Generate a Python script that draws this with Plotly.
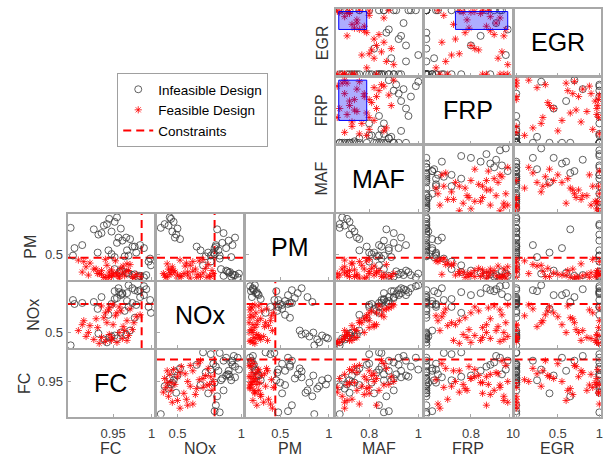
import plotly.graph_objects as go

# ---------------- data ----------------
variables = ["FC", "NOx", "PM", "MAF", "FRP", "EGR"]

# infeasible designs
inf_FC  = [0.945, 0.952, 0.938, 0.960, 0.948, 0.931, 0.967, 0.955, 0.972, 0.942,
           0.975, 0.982, 0.968, 0.990, 0.960, 0.978, 0.985, 0.958, 0.970, 0.952, 0.993, 0.962,
           0.975, 0.968, 0.980, 0.955, 0.962, 0.985, 0.970, 0.948, 0.990, 0.957, 0.965, 0.944,
           0.978, 0.952, 0.998, 0.996, 0.999, 0.935, 0.925, 0.910, 0.900, 0.898, 0.930, 0.895]
inf_NOx = [0.45, 0.47, 0.43, 0.50, 0.46, 0.49, 0.48, 0.44, 0.52, 0.40,
           0.95, 0.92, 0.90, 0.97, 0.88, 0.93, 0.86, 0.91, 0.98, 0.84, 0.94, 0.89,
           0.80, 0.82, 0.78, 0.85, 0.90, 0.93, 0.76, 0.79, 0.88, 0.95, 0.72, 0.68,
           0.65, 0.92, 0.83, 0.76, 0.70, 0.86, 0.81, 0.80, 0.79, 0.83, 0.74, 0.37]
inf_PM  = [0.97, 0.93, 0.88, 0.84, 0.80, 0.76, 0.72, 0.99, 0.70, 0.90,
           0.22, 0.20, 0.25, 0.19, 0.28, 0.23, 0.21, 0.26, 0.24, 0.30, 0.22, 0.27,
           0.60, 0.55, 0.52, 0.65, 0.68, 0.62, 0.48, 0.50, 0.58, 0.72, 0.47, 0.55,
           0.60, 0.46, 0.44, 0.40, 0.35, 0.78, 0.83, 0.62, 0.58, 0.48, 0.52, 0.85]
inf_MAF = [0.71, 0.72, 0.70, 0.73, 0.74, 0.72, 0.75, 0.69, 0.76, 0.68,
           0.97, 0.90, 0.93, 0.99, 0.95, 0.92, 0.88, 0.96, 1.00, 0.86, 0.94, 0.91,
           0.85, 0.88, 0.80, 0.90, 0.86, 0.95, 0.84, 0.81, 0.92, 0.93, 0.83, 0.76,
           0.79, 0.89, 0.85, 0.80, 0.84, 0.90, 0.87, 0.84, 0.88, 0.86, 0.82, 0.68]
inf_FRP = [0.57, 0.57, 0.57, 0.57, 0.58, 0.57, 0.57, 0.57, 0.60, 0.57,
           0.88, 0.92, 0.85, 0.95, 0.80, 0.90, 0.99, 0.75, 0.98, 0.70, 0.93, 0.96,
           0.57, 0.60, 0.62, 0.57, 0.63, 0.57, 0.62, 0.62, 0.57, 0.65, 0.57, 0.57,
           0.57, 0.61, 0.66, 0.70, 0.75, 0.57, 0.57, 0.57, 0.60, 0.57, 0.57, 0.57]
inf_EGR = [0.00, 0.00, 1.00, 0.00, 0.00, 1.00, 0.00, 0.00, 0.00, 1.00,
           1.00, 1.00, 0.60, 1.00, 0.45, 0.00, 0.70, 1.00, 0.30, 0.00, 0.80, 1.00,
           0.00, 0.00, 0.00, 0.00, 1.00, 0.20, 1.00, 0.00, 0.55, 0.00, 0.00, 1.00,
           0.00, 0.25, 0.00, 1.00, 0.00, 0.00, 0.65, 0.00, 0.00, 1.00, 0.40, 0.00]

# feasible designs
fea_FC  = [0.955, 0.948, 0.962, 0.940, 0.935, 0.970, 0.925, 0.958, 0.945, 0.965,
           0.915, 0.930, 0.975, 0.950, 0.942, 0.968, 0.920, 0.938, 0.980, 0.955,
           0.960, 0.945, 0.935, 0.972, 0.905, 0.912, 0.985, 0.950, 0.928, 0.963,
           0.948, 0.918, 0.977, 0.940, 0.958, 0.932, 0.968, 0.910, 0.953, 0.944]
fea_NOx = [0.40, 0.42, 0.44, 0.41, 0.45, 0.47, 0.43, 0.50, 0.48, 0.52,
           0.46, 0.55, 0.53, 0.58, 0.60, 0.62, 0.57, 0.65, 0.66, 0.70,
           0.72, 0.75, 0.77, 0.74, 0.52, 0.62, 0.68, 0.78, 0.64, 0.56,
           0.45, 0.50, 0.60, 0.70, 0.76, 0.39, 0.42, 0.58, 0.67, 0.73]
fea_PM  = [0.22, 0.20, 0.25, 0.19, 0.23, 0.28, 0.30, 0.18, 0.26, 0.21,
           0.33, 0.24, 0.20, 0.22, 0.35, 0.27, 0.38, 0.19, 0.23, 0.25,
           0.31, 0.21, 0.28, 0.36, 0.42, 0.40, 0.20, 0.24, 0.30, 0.34,
           0.29, 0.22, 0.18, 0.43, 0.20, 0.24, 0.37, 0.26, 0.41, 0.19]
fea_MAF = [0.68, 0.72, 0.70, 0.67, 0.75, 0.72, 0.69, 0.78, 0.71, 0.75,
           0.70, 0.80, 0.74, 0.82, 0.77, 0.80, 0.73, 0.79, 0.86, 0.83,
           0.81, 0.88, 0.84, 0.87, 0.70, 0.76, 0.85, 0.90, 0.78, 0.82,
           0.74, 0.71, 0.76, 0.80, 0.89, 0.67, 0.73, 0.83, 0.79, 0.86]
fea_FRP = [0.80, 0.85, 0.90, 0.95, 0.78, 0.82, 0.97, 0.88, 0.76, 0.93,
           0.99, 0.86, 0.79, 0.72, 0.70, 0.74, 0.68, 0.77, 0.65, 0.80,
           0.84, 0.89, 0.92, 0.67, 0.64, 0.63, 0.96, 0.99, 0.90, 0.94,
           0.86, 0.97, 0.98, 0.66, 0.82, 0.74, 0.71, 0.88, 0.62, 0.95]
fea_EGR = [0.97, 0.95, 0.90, 0.00, 0.85, 0.98, 0.00, 0.75, 0.97, 0.80,
           0.00, 0.99, 0.72, 0.55, 0.30, 0.32, 0.00, 0.65, 0.50, 0.45,
           0.38, 1.00, 0.62, 0.20, 0.00, 1.00, 0.35, 0.15, 0.68, 0.25,
           0.00, 0.60, 0.70, 0.92, 0.40, 0.99, 0.78, 0.00, 0.10, 0.88]

# axis limits per variable
limits = {"FC": [0.891, 1.003], "NOx": [0.34, 1.015], "PM": [0.153, 1.04],
          "MAF": [0.664, 1.016], "FRP": [0.564, 1.01], "EGR": [-0.02, 1.02]}
tick_vals = {"FC": [0.95, 1], "NOx": [0.5, 1], "PM": [0.5, 1],
             "MAF": [0.8, 1], "FRP": [0.8, 1], "EGR": [0, 0.5, 1]}
tick_text = {"FC": ["0.95", "1"], "NOx": ["0.5", "1"], "PM": ["0.5", "1"],
             "MAF": ["0.8", "1"], "FRP": ["0.8", "1"], "EGR": ["0", "0.5", "1"]}
y_tick_vals = {"PM": [0.5], "NOx": [0.5], "FC": [0.95]}
y_tick_text = {"PM": ["0.5"], "NOx": ["0.5"], "FC": ["0.95"]}

# constraint limits
constraints = {"FC": 0.987, "NOx": 0.79, "PM": 0.45}

# highlighted feasible region (MAF, FRP, EGR)
region = {"MAF": [0.676, 0.79], "FRP": [0.72, 0.99], "EGR": [0.70, 0.98]}

inf_data = {"FC": inf_FC, "NOx": inf_NOx, "PM": inf_PM, "MAF": inf_MAF, "FRP": inf_FRP, "EGR": inf_EGR}
fea_data = {"FC": fea_FC, "NOx": fea_NOx, "PM": fea_PM, "MAF": fea_MAF, "FRP": fea_FRP, "EGR": fea_EGR}

# ---------------- layout geometry ----------------
W, H = 607, 458
col_x0 = [66 + 90 * c for c in range(6)]
cell_w = 87
row_y0 = [9 + 68.2 * r for r in range(6)]
cell_h = 66.5

row_vars = ["EGR", "FRP", "MAF", "PM", "NOx", "FC"]
row_title_x = [322, 322, 322, 29, 31, 22]

fig = go.Figure()
layout = dict(width=W, height=H, margin=dict(l=0, r=0, t=0, b=0),
              paper_bgcolor="white", plot_bgcolor="white", showlegend=True,
              font=dict(family="Liberation Sans, Arial, sans-serif", color="#333333"))
annotations = []
shapes = []

frame_col = "#a8a8a8"
tick_font = dict(size=13, color="#404040", family="Liberation Sans, Arial, sans-serif")
red = "rgba(255,0,0,0.8)"
idx = 0
for r in range(6):
    for c in range(6):
        if r < 3 and c < 3:
            continue
        idx += 1
        xv = variables[c]
        yv = row_vars[r]
        xa = "xaxis" if idx == 1 else f"xaxis{idx}"
        ya = "yaxis" if idx == 1 else f"yaxis{idx}"
        xr = "x" if idx == 1 else f"x{idx}"
        yr = "y" if idx == 1 else f"y{idx}"
        xd = [col_x0[c] / W, (col_x0[c] + cell_w) / W]
        yd = [1 - (row_y0[r] + cell_h) / H, 1 - row_y0[r] / H]
        bottom = (r == 5)
        left_lab = (c == 0)
        layout[xa] = dict(domain=xd, anchor=yr, range=limits[xv], showgrid=False, zeroline=False,
                          showline=True, mirror=True, linecolor=frame_col, linewidth=2,
                          ticks="inside", ticklen=3, tickcolor=frame_col,
                          tickvals=tick_vals[xv], ticktext=tick_text[xv],
                          showticklabels=bottom, tickfont=tick_font, ticklabelstandoff=4)
        layout[ya] = dict(domain=yd, anchor=xr, range=limits[yv], showgrid=False, zeroline=False,
                          showline=True, mirror=True, linecolor=frame_col, linewidth=2,
                          ticks="inside", ticklen=3, tickcolor=frame_col,
                          tickvals=y_tick_vals.get(yv, []), ticktext=y_tick_text.get(yv, []),
                          showticklabels=left_lab, tickfont=tick_font)
        if xv == yv:
            # empty trace so the diagonal cell is drawn
            fig.add_trace(go.Scatter(x=[None], y=[None], xaxis=xr, yaxis=yr, mode="markers",
                                     showlegend=False, hoverinfo="skip"))
            annotations.append(dict(x=(xd[0] + xd[1]) / 2, y=(yd[0] + yd[1]) / 2, xref="paper", yref="paper",
                                    xanchor="center", yanchor="middle",
                                    text=xv, showarrow=False, font=dict(size=25, color="black")))
            continue
        # constraint lines
        if yv in constraints:
            fig.add_trace(go.Scatter(x=limits[xv], y=[constraints[yv]] * 2, xaxis=xr, yaxis=yr,
                                     mode="lines", line=dict(color="red", width=2, dash="8px,5px"),
                                     name="Constraints", showlegend=False, hoverinfo="skip"))
        if xv in constraints:
            fig.add_trace(go.Scatter(x=[constraints[xv]] * 2, y=limits[yv], xaxis=xr, yaxis=yr,
                                     mode="lines", line=dict(color="red", width=2, dash="8px,5px"),
                                     name="Constraints", showlegend=False, hoverinfo="skip"))
        fig.add_trace(go.Scatter(x=inf_data[xv], y=inf_data[yv], xaxis=xr, yaxis=yr, mode="markers",
                                 marker=dict(symbol="circle-open", size=7, color="#3a3a3a", line=dict(width=0.8)),
                                 name="Infeasible Design", showlegend=False))
        fig.add_trace(go.Scatter(x=fea_data[xv], y=fea_data[yv], xaxis=xr, yaxis=yr, mode="markers",
                                 marker=dict(symbol="asterisk-open", size=6, color=red,
                                             line=dict(width=1, color=red)),
                                 name="Feasible Design", showlegend=False))
        # region box only in cells left of the diagonal in the upper block
        if xv in region and yv in region and c < 5 - r:
            shapes.append(dict(type="rect", xref=xr, yref=yr,
                               x0=region[xv][0], x1=region[xv][1], y0=region[yv][0], y1=region[yv][1],
                               fillcolor="rgba(0,0,255,0.32)", line=dict(color="blue", width=1), layer="above"))

# legend entries
fig.add_trace(go.Scatter(x=[None], y=[None], mode="markers", name="Infeasible Design",
                         marker=dict(symbol="circle-open", size=7, color="#3a3a3a", line=dict(width=0.8))))
fig.add_trace(go.Scatter(x=[None], y=[None], mode="markers", name="Feasible Design",
                         marker=dict(symbol="asterisk-open", size=6, color=red, line=dict(width=1, color=red))))
fig.add_trace(go.Scatter(x=[None], y=[None], mode="lines", name="Constraints",
                         line=dict(color="red", width=2, dash="8px,5px")))

layout["legend"] = dict(x=116 / W, y=1 - 73 / H, xanchor="left", yanchor="top",
                        bgcolor="white", bordercolor="#a0a0a0", borderwidth=1,
                        font=dict(size=13.5, color="black"), itemwidth=30, tracegroupgap=0)

# axis titles
for c, v in enumerate(variables):
    annotations.append(dict(x=(col_x0[c] + cell_w / 2) / W, y=0, xref="paper", yref="paper",
                            xanchor="center", yanchor="bottom", yshift=-1,
                            text=v, showarrow=False, font=dict(size=16, color="#333333")))
for r, v in enumerate(row_vars):
    annotations.append(dict(x=row_title_x[r] / W, y=1 - (row_y0[r] + cell_h / 2) / H, xref="paper", yref="paper",
                            xanchor="center", yanchor="middle",
                            text=v, showarrow=False, textangle=-90, font=dict(size=16, color="#333333")))

layout["annotations"] = annotations
layout["shapes"] = shapes
fig.update_layout(**layout)
fig.write_html("out.html", config={"displayModeBar": False},
               post_script="document.body.style.margin='0px';document.body.style.overflow='hidden';")
